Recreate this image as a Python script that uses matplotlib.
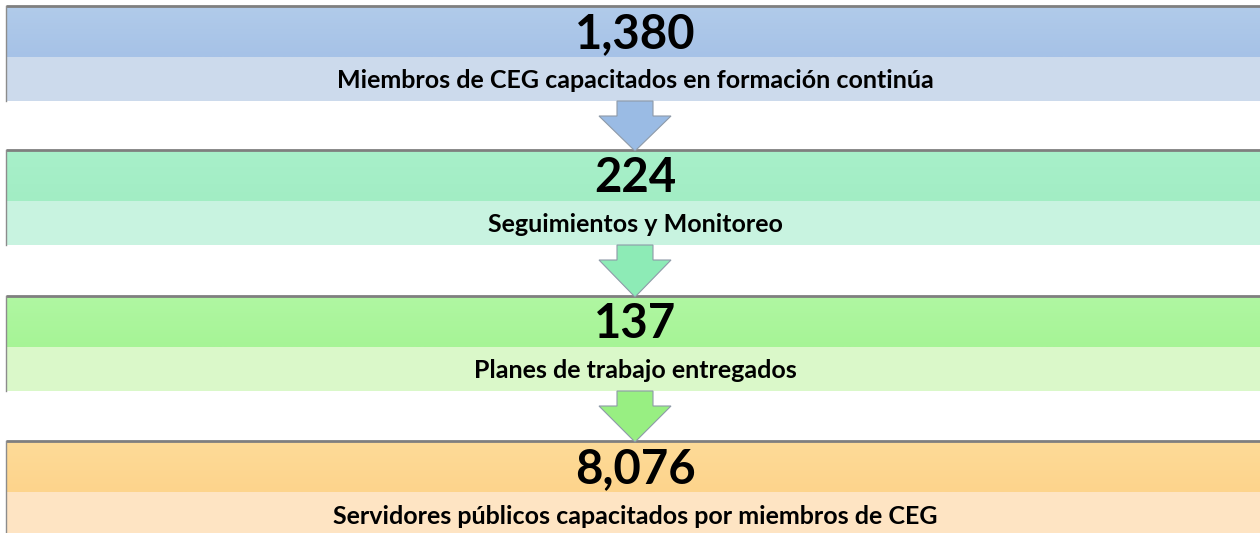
import matplotlib
matplotlib.use("Agg")
import matplotlib.pyplot as plt
import numpy as np
from matplotlib.patches import Polygon

values = ["1,380", "224", "137", "8,076"]
labels = ["Miembros de CEG capacitados en formación continúa",
          "Seguimientos y Monitoreo",
          "Planes de trabajo entregados",
          "Servidores públicos capacitados por miembros de CEG"]
dark_top = ["#B1CBEA", "#A8F0CA", "#B0F7A2", "#FEDB98"]
dark_bot = ["#A6C2E7", "#A2EDC4", "#A6F496", "#FDD48C"]
light_cols = ["#CCDAEC", "#C8F3E0", "#DAF8C9", "#FEE4C3"]
arrow_cols = ["#9ABBE4", "#8DEBB6", "#98EF82"]

W, H = 1260, 533
fig = plt.figure(figsize=(12.6, 5.33), dpi=100)
ax = fig.add_axes([0, 0, 1, 1])
ax.set_xlim(0, W)
ax.set_ylim(H, 0)
ax.axis("off")

tops = [6, 150, 296, 441]
dark_h = 51
light_h = 44
x0 = 6
font = "Lato"

for i in range(4):
    t = tops[i]
    grad = np.linspace(0, 1, 50)[:, None]
    c1 = np.array(matplotlib.colors.to_rgb(dark_top[i]))
    c2 = np.array(matplotlib.colors.to_rgb(dark_bot[i]))
    img = c1[None, None, :] * (1 - grad[..., None]) + c2[None, None, :] * grad[..., None]
    img = np.repeat(img, 2, axis=1)
    ax.imshow(img, extent=[x0, W + 5, t + dark_h, t], aspect="auto", zorder=1)
    ax.barh(t + dark_h + light_h / 2, W + 5 - x0, height=light_h, left=x0,
            color=light_cols[i], zorder=1)
    ax.plot([x0, W + 5], [t, t], color="#7F7F7F", lw=2, zorder=3, solid_capstyle="butt")
    ax.plot([x0, x0], [t, t + dark_h + light_h], color="#8C8C8C", lw=1, zorder=3)
    ax.text(635, t + 28, values[i], ha="center", va="center", fontsize=34,
            fontweight="bold", family=font, color="black", zorder=4)
    ax.text(635, t + dark_h + 24, labels[i], ha="center", va="center", fontsize=18,
            fontweight="bold", family=font, color="black", zorder=4)

for i in range(3):
    ys = tops[i] + dark_h + light_h
    ye = tops[i + 1]
    head_top = ys + 15
    pts = [(617, ys), (653, ys), (653, head_top), (671, head_top), (635, ye + 1),
           (599, head_top), (617, head_top)]
    ax.add_patch(Polygon(pts, closed=True, facecolor=arrow_cols[i],
                         edgecolor="#8E9AA8", lw=0.8, zorder=5))

fig.savefig("out.png", dpi=100)
